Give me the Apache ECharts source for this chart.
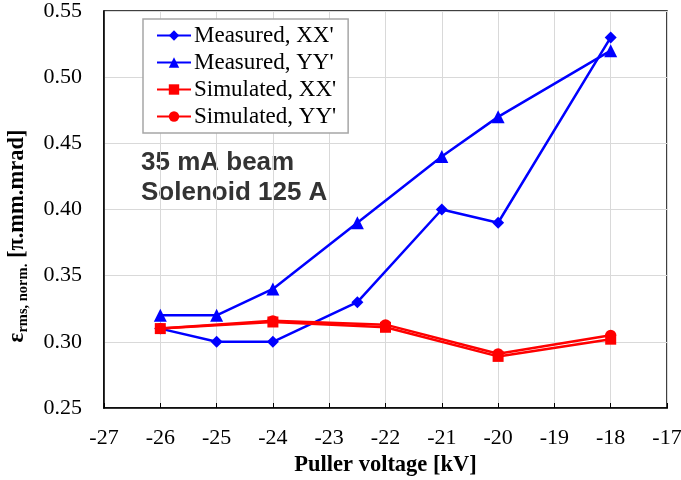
<!DOCTYPE html>
<html>
<head>
<meta charset="utf-8">
<script src="https://cdn.jsdelivr.net/npm/echarts@6/dist/echarts.min.js"></script>
<style>
html,body{margin:0;padding:0;background:#fff;}
#c{width:681px;height:480px;}
</style>
</head>
<body>
<div id="c"></div>
<script>
var seriesNames = ["Measured, XX'", "Measured, YY'", "Simulated, XX'", "Simulated, YY'"];
var measuredX = [-26, -25, -24, -22.5, -21, -20, -18];
var measuredXX = [0.31, 0.30, 0.30, 0.33, 0.40, 0.39, 0.53];
var measuredYY = [0.32, 0.32, 0.34, 0.39, 0.44, 0.47, 0.52];
var simulatedX = [-26, -24, -22, -20, -18];
var simulatedXX = [0.310, 0.315, 0.311, 0.289, 0.302];
var simulatedYY = [0.310, 0.316, 0.313, 0.291, 0.305];
var annotationLines = ["35 mA beam", "Solenoid 125 A"];
var xAxisTitle = 'Puller voltage [kV]';

function pairs(xs, ys){ return xs.map(function(x,i){ return [x, ys[i]]; }); }

var chart = echarts.init(document.getElementById('c'), null, {renderer:'canvas'});
var serif = 'Liberation Serif, Times New Roman, serif';
var blue = '#0000ff', red = '#ff0000';
chart.setOption({
  animation:false,
  backgroundColor:'#ffffff',
  grid:{left:104, right:14, top:11, bottom:72, outerBoundsMode:'none', containLabel:false,
    show:true, borderColor:'#000', borderWidth:1.5, backgroundColor:'transparent'},
  xAxis:{
    type:'value', min:-27, max:-17, interval:1,
    name:xAxisTitle, nameLocation:'middle', nameGap:46,
    nameTextStyle:{fontFamily:serif, fontWeight:'bold', fontSize:22.5, color:'#000'},
    axisLine:{show:true, onZero:false, lineStyle:{color:'#000', width:1.5}},
    axisTick:{show:true, inside:true, length:5, lineStyle:{color:'#000'}},
    axisLabel:{fontFamily:serif, fontSize:22, color:'#000', margin:19},
    splitLine:{show:true, lineStyle:{color:'#d9d9d9', width:1}}
  },
  yAxis:{
    type:'value', min:0.25, max:0.55, interval:0.05,
    axisLine:{show:true, lineStyle:{color:'#000', width:1.5}},
    axisTick:{show:false},
    axisLabel:{fontFamily:serif, fontSize:22, color:'#000', margin:22,
      formatter:function(v){ return v.toFixed(2); }},
    splitLine:{show:true, lineStyle:{color:'#d9d9d9', width:1}}
  },
  legend:{
    orient:'vertical', left:143, top:19,
    backgroundColor:'#fff', borderColor:'#a6a6a6', borderWidth:1.5,
    padding:[5,12,5,13], itemGap:4, itemWidth:34, itemHeight:13,
    textStyle:{fontFamily:serif, fontSize:23, color:'#000', padding:[0,0,0,-2]},
    data:seriesNames
  },
  graphic:[
    {type:'text', left:141, top:148, style:{text:annotationLines.join('\n'), fontFamily:'Liberation Sans, Arial, sans-serif', fontWeight:'bold', fontSize:26, lineHeight:30, fill:'#333333'}},
    {type:'text', x:17, y:236, rotation:Math.PI/2,
      style:{text:'{e|ε}{sub|rms, norm.}{b| [π.mm.mrad]}', align:'center', verticalAlign:'middle',
        rich:{
          e:{fontFamily:serif, fontWeight:'bold', fontSize:23, fill:'#000'},
          sub:{fontFamily:serif, fontWeight:'bold', fontSize:14.5, fill:'#000', padding:[12,0,0,0]},
          b:{fontFamily:serif, fontWeight:'bold', fontSize:22.5, fill:'#000'}
        }}}
  ],
  series:[
    {name:seriesNames[0], type:'line', data:pairs(measuredX, measuredXX), symbol:'diamond', symbolSize:12,
      lineStyle:{color:blue, width:2.5}, itemStyle:{color:blue}},
    {name:seriesNames[1], type:'line', data:pairs(measuredX, measuredYY), symbol:'triangle', symbolSize:13,
      lineStyle:{color:blue, width:2.5}, itemStyle:{color:blue}},
    {name:seriesNames[2], type:'line', data:pairs(simulatedX, simulatedXX), symbol:'rect', symbolSize:11,
      lineStyle:{color:red, width:2.5}, itemStyle:{color:red}},
    {name:seriesNames[3], type:'line', data:pairs(simulatedX, simulatedYY), symbol:'circle', symbolSize:11,
      lineStyle:{color:red, width:2.5}, itemStyle:{color:red}}
  ]
});
</script>
</body>
</html>
